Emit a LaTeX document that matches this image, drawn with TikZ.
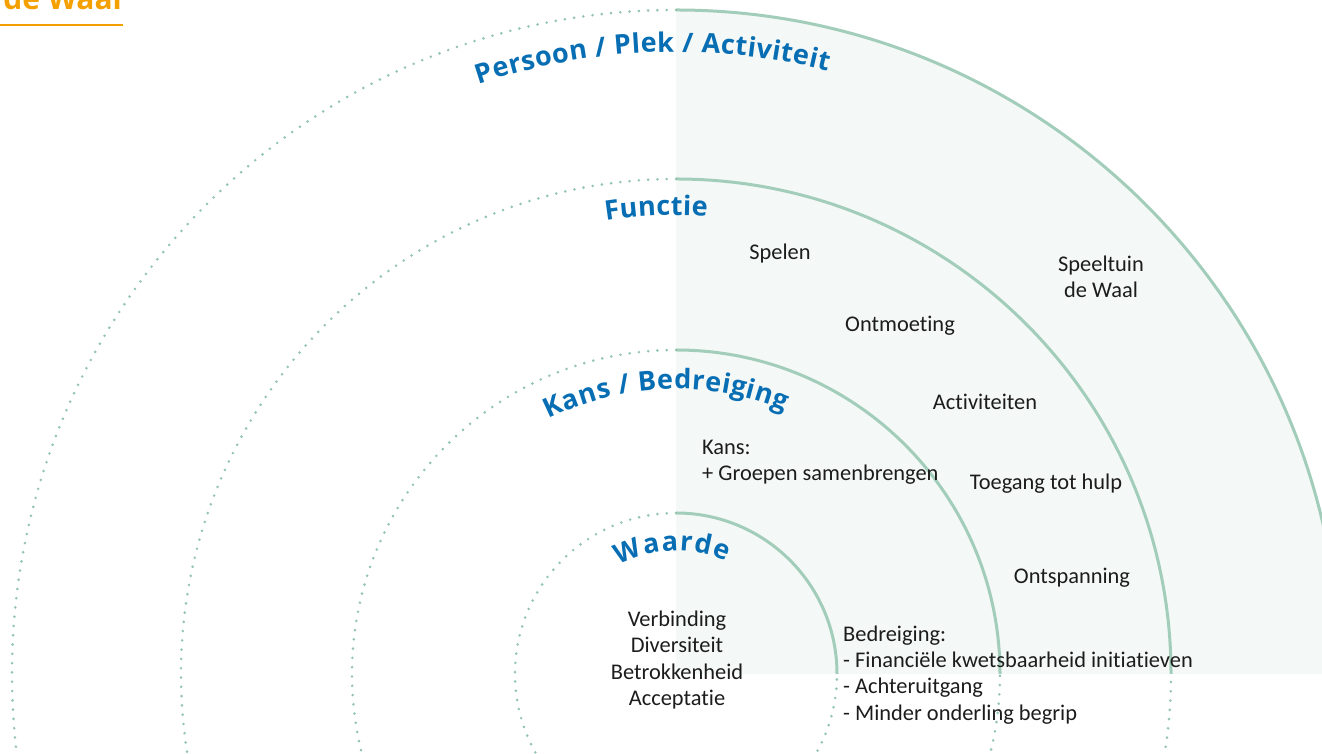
\documentclass[tikz,border=0pt]{standalone}
\usepackage{fontspec}
\setmainfont{Carlito}[Ligatures=NoCommon]
\newfontfamily\titlefont{Open Sans}
\usetikzlibrary{decorations.text}
\definecolor{arcgreen}{RGB}{163,205,187}
\definecolor{dotgreen}{RGB}{148,197,176}
\definecolor{fillgreen}{RGB}{244,248,246}
\definecolor{titleblue}{RGB}{8,110,180}
\definecolor{orangec}{RGB}{244,160,0}
\definecolor{bodytext}{RGB}{28,28,28}
\newcommand{\tfnt}{\titlefont\bfseries\fontsize{27}{31}\selectfont}
\begin{document}
\begin{tikzpicture}[x=1pt,y=1pt,
  solidarc/.style={arcgreen, line width=3pt},
  dotarc/.style={dotgreen, line width=2.9pt, line cap=round, dash pattern=on 0pt off 9.3pt},
  body/.style={font=\fontsize{22.4}{26.3}\selectfont, text=bodytext, inner sep=0pt},
  titlearc/.style={decorate, decoration={text along path, text align={fit to path}, text={#1}}}
]
\useasboundingbox (0,0) rectangle (1322,754);
\begin{scope}
\clip (0,0) rectangle (1322,754);
\coordinate (C) at (676,80);
\fill[fillgreen] (C) -- ++(90:664) arc[start angle=90,end angle=0,radius=664] -- cycle;
\foreach \r in {664,495,324,161} {
  \draw[solidarc] (C) ++(90:\r) arc[start angle=90,end angle=0,radius=\r];
  \draw[dotarc] (C) ++(90:\r) arc[start angle=90,end angle=360,radius=\r];
}
\path[shift={(676,80)}, titlearc={|\tfnt\color{titleblue}|Persoon / Plek / Activiteit}] (108.5:622) arc[start angle=108.5,end angle=75.9,radius=622];
\path[shift={(676,80)}, titlearc={|\tfnt\color{titleblue}|Functie}] (98.8:459) arc[start angle=98.8,end angle=86.1,radius=459];
\path[shift={(676,80)}, titlearc={|\tfnt\color{titleblue}|Kans / Bedreiging}] (116.5:285) arc[start angle=116.5,end angle=67.5,radius=285];
\path[shift={(676,80)}, titlearc={|\tfnt\color{titleblue}|Waarde}] (117.5:123) arc[start angle=117.5,end angle=66,radius=123];
\node[font=\titlefont\bfseries\fontsize{30}{36}\selectfont, text=orangec, anchor=base east, inner sep=0pt] (dewaal) at (122,744) {de Waal};
\draw[orangec, line width=1.5pt] (0,729) -- (123,729);
\end{scope}

\node[body] (spelen) at (780,500) {Spelen};
\node[body, align=center] (speeltuin) at (1101,477) {Speeltuin\\de Waal};
\node[body] (ontmoeting) at (900,428) {Ontmoeting};
\node[body] (activiteiten) at (985,352) {Activiteiten};
\node[body] (toegang) at (1046,270) {Toegang tot hulp};
\node[body] (ontspanning) at (1072,176) {Ontspanning};
\node[body, align=left, anchor=west] (kans) at (702,292) {Kans:\\+ Groepen samenbrengen};
\node[body, align=left, anchor=west] (bedreiging) at (843,79) {Bedreiging:\\- Financiële kwetsbaarheid initiatieven\\- Achteruitgang\\- Minder onderling begrip};
\node[body, align=center] (waarde) at (677,94) {Verbinding\\Diversiteit\\Betrokkenheid\\Acceptatie};
\end{tikzpicture}
\end{document}
